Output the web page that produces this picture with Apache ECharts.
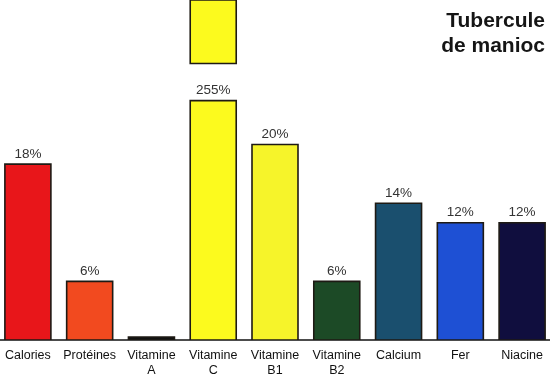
<!DOCTYPE html>
<html>
<head>
<meta charset="utf-8">
<script src="https://cdn.jsdelivr.net/npm/echarts@6/dist/echarts.min.js"></script>
<style>
html,body{margin:0;padding:0;background:#fff;}
#chart{width:550px;height:375px;}
</style>
</head>
<body>
<div id="chart"></div>
<script>
const categories = ['Calories', 'Protéines', 'Vitamine\nA', 'Vitamine\nC', 'Vitamine\nB1', 'Vitamine\nB2', 'Calcium', 'Fer', 'Niacine'];
const values = [18, 6, 0.3, 255, 20, 6, 14, 12, 12];
const valueLabels = ['18%', '6%', '', '255%', '20%', '6%', '14%', '12%', '12%'];
const barColors = ['#e8161a', '#f24a1f', '#111111', '#fcfa1e', '#f6f42a', '#1c4a26', '#1a4f6e', '#1e50d4', '#100e3e'];
const breakStart = 24.5;
const breakEnd = 248.5;
const yMax = 255;
const titleText = 'Tubercule\nde manioc';

const chart = echarts.init(document.getElementById('chart'));
const BW = 46;
chart.setOption({
  animation: false,
  backgroundColor: '#ffffff',
  title: {
    text: titleText,
    left: 540, top: 4,
    textAlign: 'right',
    textStyle: {fontFamily: 'Liberation Sans, Arial', fontWeight: 'bold', fontSize: 21, lineHeight: 25, color: '#151515'}
  },
  grid: {left: -3, right: -3, top: 0, bottom: 35, containLabel: false, outerBoundsMode: 'none'},
  xAxis: {
    type: 'category',
    data: categories,
    axisLine: {lineStyle: {color: '#111', width: 1.5}},
    axisTick: {show: false},
    axisLabel: {interval: 0, margin: 8, color: '#111', fontFamily: 'Liberation Sans, Arial', fontSize: 12.5, lineHeight: 15}
  },
  yAxis: {
    type: 'value',
    min: 0, max: yMax,
    breaks: [{start: breakStart, end: breakEnd, gap: '10.9%'}],
    breakArea: {show: false},
    axisLine: {show: false}, axisTick: {show: false}, axisLabel: {show: false}, splitLine: {show: false}
  },
  series: [{
    type: 'custom',
    clip: true,
    data: values.map((v, i) => [i, v]),
    renderItem: function (params, api) {
      const i = api.value(0);
      const v = api.value(1);
      const base = api.coord([i, 0]);
      const x = base[0] - BW / 2;
      const style = {fill: barColors[i], stroke: '#1e1a14', lineWidth: 1.6};
      const children = [];
      let labelY;
      if (v > breakEnd) {
        const p1 = api.coord([i, breakStart]);
        const p2 = api.coord([i, breakEnd]);
        const p3 = api.coord([i, v]);
        children.push({type: 'rect', shape: {x: x, y: p1[1], width: BW, height: base[1] - p1[1]}, style: style});
        children.push({type: 'rect', shape: {x: x, y: p3[1], width: BW, height: p2[1] - p3[1]}, style: style});
        labelY = p1[1];
      } else {
        const p = api.coord([i, v]);
        children.push({type: 'rect', shape: {x: x, y: p[1], width: BW, height: base[1] - p[1]}, style: style});
        labelY = p[1];
      }
      children.push({type: 'text', style: {text: valueLabels[i], x: base[0], y: labelY - 3, align: 'center', verticalAlign: 'bottom', fill: '#333', font: '13.5px "Liberation Sans", Arial'}});
      return {type: 'group', children: children};
    }
  }]
});
</script>
</body>
</html>
